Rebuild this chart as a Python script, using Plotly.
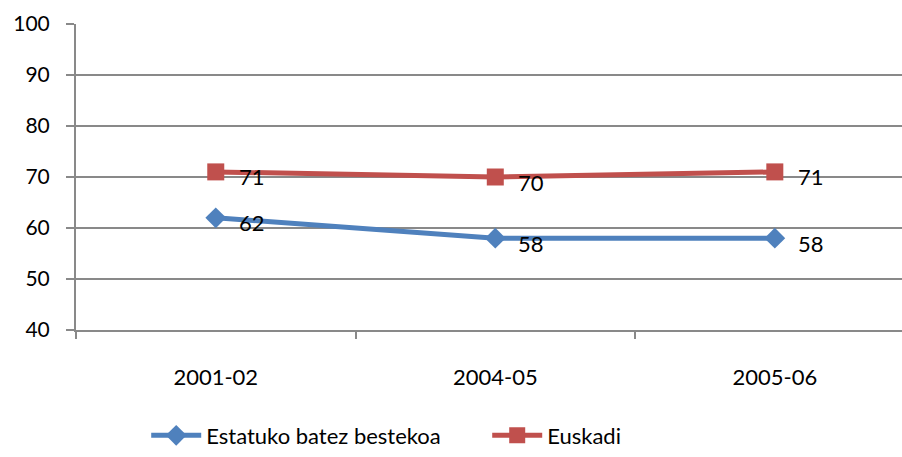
import plotly.graph_objects as go

# data
periods = ["2001-02", "2004-05", "2005-06"]
estatuko = [62, 58, 58]
euskadi = [71, 70, 71]

FONT = "Lato, Calibri, sans-serif"
GRID = "#898989"

fig = go.Figure()

fig.add_scatter(
    x=periods, y=estatuko, mode="lines+markers",
    name="Estatuko batez bestekoa",
    line=dict(color="#4F81BD", width=5),
    marker=dict(symbol="diamond", size=16, color="#4F81BD"),
)
fig.add_scatter(
    x=periods, y=euskadi, mode="lines+markers",
    name="Euskadi",
    line=dict(color="#C0504D", width=5),
    marker=dict(symbol="square", size=17, color="#C0504D"),
)

# data labels to the right of each point
for ys in (estatuko, euskadi):
    for p, v in zip(periods, ys):
        fig.add_annotation(
            x=p, y=v, text=str(v), showarrow=False,
            xanchor="left", xshift=21, yshift=-5,
            font=dict(size=22, color="black", family=FONT),
        )

fig.update_layout(
    width=902, height=457,
    margin=dict(l=76, r=0, t=24, b=124),
    paper_bgcolor="white", plot_bgcolor="white",
    font=dict(family=FONT, size=21, color="black"),
    showlegend=True,
    legend=dict(orientation="h", x=0.085, xanchor="left", y=-0.345, yanchor="middle",
                font=dict(size=22), entrywidth=276, itemwidth=50),
)

fig.update_xaxes(
    type="category", range=[-0.5, 2.455], automargin=False,
    showgrid=False, showline=True, linecolor=GRID, linewidth=2,
    ticks="outside", tickson="boundaries", ticklen=7, tickcolor=GRID, tickwidth=2,
    ticklabelstandoff=27, tickfont=dict(size=22),
)
fig.update_yaxes(
    range=[40, 100], dtick=10, automargin=False,
    showgrid=True, gridcolor=GRID, gridwidth=2,
    showline=True, linecolor=GRID, linewidth=2,
    ticks="outside", ticklen=8, tickcolor=GRID, tickwidth=2,
    ticklabelstandoff=12, tickfont=dict(size=21), zeroline=False,
)

fig.write_html(
    "out.html",
    config={"displayModeBar": False},
    post_script="document.body.style.margin='0';document.body.style.overflow='hidden';",
)
